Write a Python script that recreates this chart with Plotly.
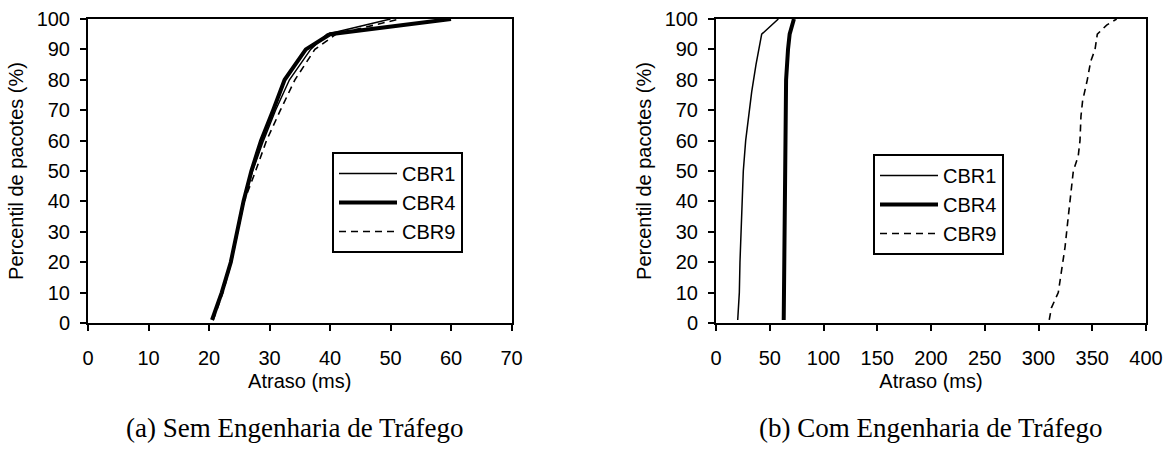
import plotly.graph_objects as go

# ---------------- data ----------------
pct_a = [1, 5, 10, 20, 30, 40, 50, 60, 70, 80, 90, 95, 100]
a_cbr1 = [20.6, 21.3, 22.2, 23.6, 24.7, 25.8, 27.2, 29.0, 31.0, 33.3, 36.8, 39.5, 50.0]
a_cbr4 = [20.5, 21.2, 22.1, 23.6, 24.6, 25.7, 27.0, 28.6, 30.6, 32.5, 36.0, 40.0, 60.0]
a_cbr9 = [20.7, 21.4, 22.3, 23.7, 24.8, 25.8, 27.7, 29.5, 31.8, 34.2, 37.5, 41.0, 51.5]

pct_b1 = [1, 10, 20, 35, 50, 60, 76, 85, 95, 100]
b_cbr1 = [20.2, 21.7, 22.3, 23.9, 25.4, 27.6, 33.2, 37.2, 42.5, 58.0]
pct_b4 = [1, 10, 20, 30, 40, 50, 60, 70, 80, 90, 95, 100]
b_cbr4 = [63.0, 63.3, 63.5, 63.7, 64.0, 64.2, 64.4, 64.7, 65.2, 67.0, 68.5, 72.5]
pct_b9 = [1, 5, 10, 17, 25, 35, 42, 50, 55, 60, 68, 73, 80, 86, 90, 95, 98, 100]
b_cbr9 = [310.0, 312.0, 318.4, 321.6, 324.7, 327.7, 330.0, 332.4, 337.0, 338.6,
          339.5, 341.0, 345.4, 348.5, 352.6, 354.7, 363.4, 372.7]

series_names = ["CBR1", "CBR4", "CBR9"]
x_ticks_a = [0, 10, 20, 30, 40, 50, 60, 70]
x_ticks_b = [0, 50, 100, 150, 200, 250, 300, 350, 400]
y_ticks = [0, 10, 20, 30, 40, 50, 60, 70, 80, 90, 100]

x_title = "Atraso (ms)"
y_title = "Percentil de pacotes (%)"
caption_a = "(a) Sem Engenharia de Tráfego"
caption_b = "(b) Com Engenharia de Tráfego"

# ---------------- styles ----------------
FONT = "Liberation Sans, Arial, sans-serif"
SERIF = "Liberation Serif, Times New Roman, serif"
styles = [
    dict(color="black", width=1.5, dash="solid"),
    dict(color="black", width=4, dash="solid"),
    dict(color="black", width=1.6, dash="7px,5px"),
]

fig = go.Figure()

for name, xs, ys, st in zip(series_names, [a_cbr1, a_cbr4, a_cbr9],
                            [pct_a, pct_a, pct_a], styles):
    fig.add_trace(go.Scatter(x=xs, y=ys, mode="lines", name=name, line=st,
                             xaxis="x", yaxis="y", legend="legend"))

for name, xs, ys, st in zip(series_names, [b_cbr1, b_cbr4, b_cbr9],
                            [pct_b1, pct_b4, pct_b9], styles):
    fig.add_trace(go.Scatter(x=xs, y=ys, mode="lines", name=name, line=st,
                             xaxis="x2", yaxis="y2", legend="legend2"))

W, H = 1170, 449
ydom = [(H - 323) / H, (H - 19) / H]

axis_common = dict(showgrid=False, zeroline=False, showline=True, linecolor="black",
                   linewidth=2, mirror=True, ticks="outside", ticklen=6, tickwidth=2,
                   tickcolor="black", automargin=False,
                   tickfont=dict(family=FONT, size=20, color="black"),
                   title_font=dict(family=FONT, size=20, color="black"))

legend_common = dict(bgcolor="white", bordercolor="black", borderwidth=2,
                     font=dict(family=FONT, size=20, color="black"),
                     xanchor="left", yanchor="top", itemwidth=58, tracegroupgap=0)

fig.update_layout(
    width=W, height=H,
    margin=dict(l=0, r=0, t=0, b=0, autoexpand=False),
    paper_bgcolor="white", plot_bgcolor="white",
    xaxis=dict(domain=[88 / W, 511.5 / W], range=[0, 70], tickvals=x_ticks_a,
               ticklabelstandoff=10,
               title=dict(text=x_title, standoff=6), anchor="y", **axis_common),
    yaxis=dict(domain=ydom, range=[0, 100], tickvals=y_ticks, ticklabelstandoff=6,
               title=dict(text=y_title, standoff=8), anchor="x", **axis_common),
    xaxis2=dict(domain=[716 / W, 1146 / W], range=[0, 400], tickvals=x_ticks_b,
                ticklabelstandoff=10,
                title=dict(text=x_title, standoff=6), anchor="y2", **axis_common),
    yaxis2=dict(domain=ydom, range=[0, 100], tickvals=y_ticks, ticklabelstandoff=6,
                title=dict(text=y_title, standoff=8), anchor="x2", **axis_common),
    legend=dict(x=332 / W, y=(H - 152) / H, **legend_common),
    legend2=dict(x=873 / W, y=(H - 154) / H, **legend_common),
    showlegend=True,
)

fig.add_annotation(text=caption_a, xref="paper", yref="paper",
                   x=294 / W, y=(H - 428) / H, xanchor="center", yanchor="middle",
                   showarrow=False, font=dict(family=SERIF, size=27, color="black"))
fig.add_annotation(text=caption_b, xref="paper", yref="paper",
                   x=931 / W, y=(H - 428) / H, xanchor="center", yanchor="middle",
                   showarrow=False, font=dict(family=SERIF, size=27, color="black"))

fig.write_html("out.html")
